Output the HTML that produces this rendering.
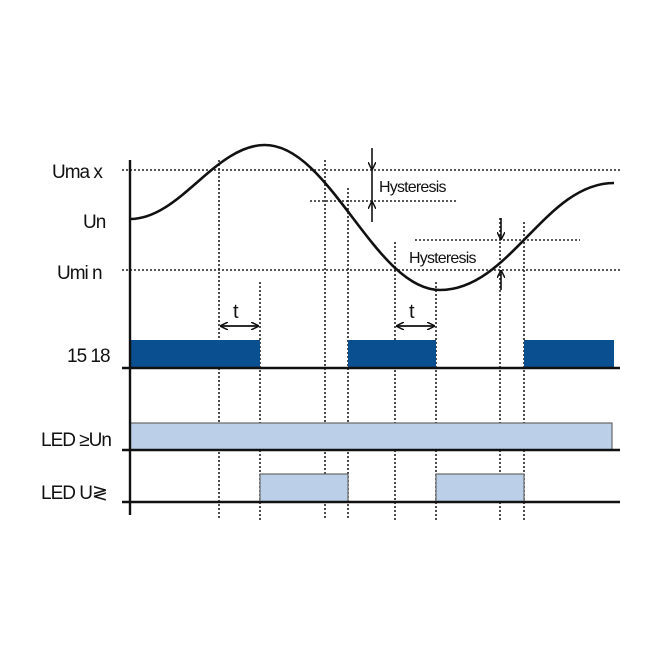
<!DOCTYPE html><html><head><style>body{margin:0;background:#fff}svg{display:block}</style></head><body>
<svg width="663" height="663" viewBox="0 0 663 663" xmlns="http://www.w3.org/2000/svg" font-family="Liberation Sans, DejaVu Sans, sans-serif">
<defs><marker id="a" markerWidth="8" markerHeight="8" refX="7" refY="4" orient="auto" markerUnits="userSpaceOnUse"><path d="M0,0 L8,4 L0,8" fill="none" stroke="#111" stroke-width="1.5"/></marker></defs>
<g stroke="#222" stroke-width="1.6" stroke-dasharray="2,2" fill="none">
<line x1="122" y1="170" x2="620" y2="170"/>
<line x1="122" y1="270" x2="620" y2="270"/>
<line x1="310" y1="201" x2="458" y2="201"/>
<line x1="415" y1="240" x2="580" y2="240"/>
<line x1="219" y1="160" x2="219" y2="520"/>
<line x1="260" y1="282" x2="260" y2="520"/>
<line x1="325" y1="160" x2="325" y2="520"/>
<line x1="348" y1="188" x2="348" y2="520"/>
<line x1="395" y1="242" x2="395" y2="520"/>
<line x1="436" y1="282" x2="436" y2="520"/>
<line x1="500" y1="218" x2="500" y2="520"/>
<line x1="524" y1="222" x2="524" y2="520"/>
</g>
<path d="M130,219 C180,219 215,145 265,145 C330,145 375,290 440,290 C510,290 545,183 614,183" fill="none" stroke="#111" stroke-width="2.6"/>
<rect x="130" y="340" width="130" height="28" fill="#0a4f8f"/>
<rect x="348" y="340" width="88" height="28" fill="#0a4f8f"/>
<rect x="524" y="340" width="90" height="28" fill="#0a4f8f"/>
<rect x="130" y="423" width="482" height="27" fill="#bccfe9" stroke="#666" stroke-width="1.2"/>
<rect x="260" y="474" width="88" height="28" fill="#bccfe9" stroke="#666" stroke-width="1.2"/>
<rect x="436" y="474" width="88" height="28" fill="#bccfe9" stroke="#666" stroke-width="1.2"/>
<g stroke="#111" stroke-width="2.4">
<line x1="130" y1="160" x2="130" y2="515"/>
<line x1="122" y1="368" x2="620" y2="368"/>
<line x1="122" y1="450" x2="620" y2="450"/>
<line x1="122" y1="502" x2="620" y2="502"/>
</g>
<g stroke="#111" stroke-width="1.6" fill="none">
<line x1="372" y1="148" x2="372" y2="169" marker-end="url(#a)"/>
<line x1="372" y1="222" x2="372" y2="202" marker-end="url(#a)"/>
<line x1="372" y1="169" x2="372" y2="202"/>
<line x1="501" y1="218" x2="501" y2="239" marker-end="url(#a)"/>
<line x1="501" y1="290" x2="501" y2="271" marker-end="url(#a)"/>
<line x1="221" y1="326" x2="258" y2="326" marker-end="url(#a)"/>
<line x1="258" y1="326" x2="221" y2="326" marker-end="url(#a)"/>
<line x1="397" y1="326" x2="434" y2="326" marker-end="url(#a)"/>
<line x1="434" y1="326" x2="397" y2="326" marker-end="url(#a)"/>
</g>
<g fill="#111" font-size="19" letter-spacing="-1">
<text x="52" y="178">Uma x</text>
<text x="83" y="228">Un</text>
<text x="57" y="279">Umi n</text>
<text x="67" y="362">15 18</text>
<text x="41" y="446">LED ≥Un</text>
<text x="41" y="499">LED  U≷</text>
<text x="233" y="318" font-size="20" letter-spacing="0">t</text>
<text x="409" y="318" font-size="20" letter-spacing="0">t</text>
<text x="379" y="192" font-size="16" letter-spacing="-0.8">Hysteresis</text>
<text x="409" y="263" font-size="16" letter-spacing="-0.8">Hysteresis</text>
</g>
</svg></body></html>
